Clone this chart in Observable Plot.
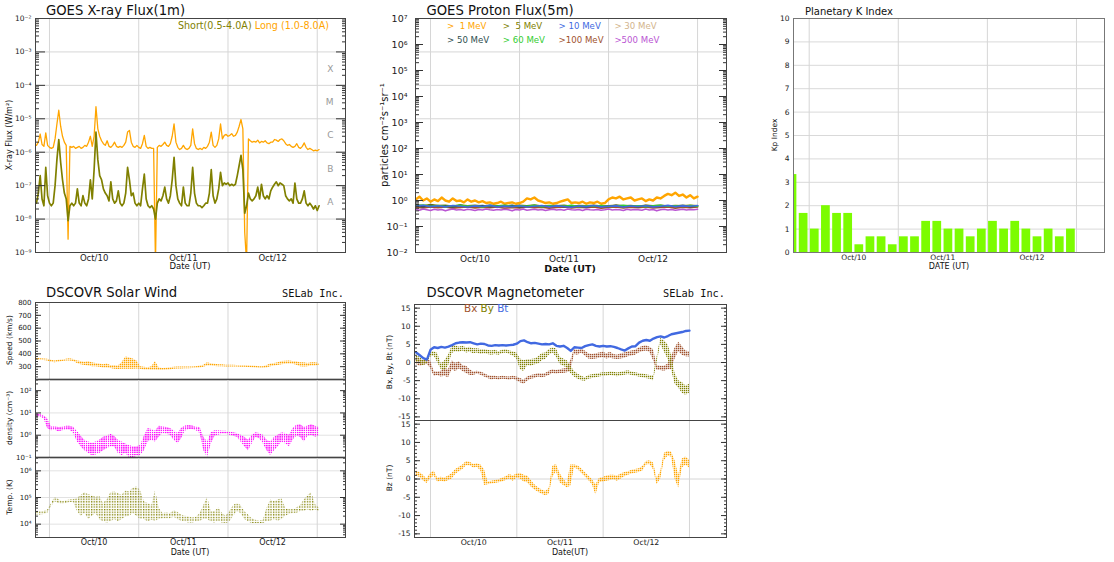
<!DOCTYPE html>
<html>
<head>
<meta charset="utf-8">
<script src="https://cdn.jsdelivr.net/npm/d3@7"></script>
<script src="https://cdn.jsdelivr.net/npm/@observablehq/plot@0.6"></script>
<style>
  html, body { margin: 0; padding: 0; background: #fff; }
  #page { position: relative; width: 1114px; height: 562px; overflow: hidden; font-family: "DejaVu Sans", sans-serif; }
  .slot { position: absolute; }
  .slot svg { max-width: none !important; }
</style>
</head>
<body>
<!-- dotted fills used for the scattered plasma / field samples -->
<svg width="0" height="0" style="position:absolute">
  <defs>
    <pattern id="dots-orange" width="2" height="2" patternUnits="userSpaceOnUse"><rect width="1.4" height="1.4" fill="#ffa500"/></pattern>
    <pattern id="dots-magenta" width="2.2" height="2.2" patternUnits="userSpaceOnUse"><rect width="1.4" height="1.4" fill="#ff00ff"/></pattern>
    <pattern id="dots-olive" width="2.6" height="2.6" patternUnits="userSpaceOnUse"><rect width="1.3" height="1.3" fill="#808000"/></pattern>
    <pattern id="dots-olive-dense" width="2" height="2" patternUnits="userSpaceOnUse"><rect width="1.3" height="1.3" fill="#808000"/></pattern>
    <pattern id="dots-sienna" width="2" height="2" patternUnits="userSpaceOnUse"><rect width="1.4" height="1.4" fill="#a0522d"/></pattern>
  </defs>
</svg>
<div id="page"></div>
<script>
// ---------- time base ----------
const T0 = Date.UTC(2023, 9, 10);           // Oct 10, 00:00 UT
const HOUR = 3600e3;
const at = h => new Date(T0 + h * HOUR);

// ---------- day ticks ----------
const dayStartHours = [0, 24, 48, 72];
const dayNoonHours = [12, 36, 60];
const dayLabels = ["Oct/10", "Oct/11", "Oct/12"];

// visible time windows, hours from Oct 10 00:00 UT
const xrayWindow = [-3.76, 79.6];
const protonWindow = [-4.05, 79.8];
const kpWindow = [-4.23, 79.55];
const magWindow = [-4.45, 82.3];

// ---------- GOES X-ray flux, W/m², 30-min samples from Oct 9 20:30 UT ----------
const xrayStart = -3.5, xrayStep = 0.5;
const xrayLong = [
  1.6e-6, 2.0e-6, 3.5e-6, 1.7e-6, 1.5e-6, 3.8e-6, 1.6e-6, 1.4e-6, 1.3e-6, 1.4e-6,
  2.5e-6, 7e-6, 1.8e-5, 6e-6, 3e-6, 2e-6, 1.6e-6, 2.5e-9, 1.5e-6, 1.4e-6,
  1.5e-6, 1.3e-6, 1.4e-6, 1.5e-6, 1.3e-6, 1.4e-6, 1.6e-6, 1.5e-6, 2e-6, 3e-6,
  1.5e-6, 3e-6, 2.3e-5, 5e-6, 3e-6, 2.2e-6, 1.8e-6, 1.6e-6, 2.2e-6, 1.5e-6,
  1.4e-6, 1.6e-6, 2e-6, 1.5e-6, 1.4e-6, 1.5e-6, 1.4e-6, 1.6e-6, 2e-6, 4e-6,
  4.5e-6, 2e-6, 1.5e-6, 1.4e-6, 1.6e-6, 1.4e-6, 1.3e-6, 1.8e-6, 3.2e-6, 1.5e-6,
  1.3e-6, 1.4e-6, 1.3e-6, 1.3e-6, 5e-10, 1.4e-6, 1.6e-6, 1.5e-6, 1.7e-6, 2e-6,
  1.6e-6, 1.5e-6, 1.8e-6, 3e-6, 7e-6, 2e-6, 1.4e-6, 1.2e-6, 1.3e-6, 1.6e-6,
  1.3e-6, 1.2e-6, 1.3e-6, 1.6e-6, 5e-6, 1.8e-6, 1.3e-6, 1.2e-6, 1.3e-6, 1.2e-6,
  1.4e-6, 1.3e-6, 1.5e-6, 2e-6, 4e-6, 1.6e-6, 1.4e-6, 1.6e-6, 2.5e-6, 7e-6,
  2.5e-6, 3.2e-6, 3.4e-6, 3e-6, 3.2e-6, 3.6e-6, 3e-6, 3.2e-6, 4e-6, 6e-6,
  9.5e-6, 5e-6, 4e-9, 5e-10, 2.5e-6, 2.2e-6, 2e-6, 2.1e-6, 2e-6, 2.3e-6,
  1.9e-6, 2.1e-6, 2e-6, 2.2e-6, 1.9e-6, 1.8e-6, 2e-6, 2e-6, 2.4e-6, 2.3e-6,
  2.1e-6, 2.4e-6, 2.5e-6, 2.2e-6, 1.8e-6, 1.6e-6, 1.7e-6, 1.5e-6, 1.4e-6, 1.5e-6,
  1.8e-6, 1.4e-6, 1.3e-6, 1.5e-6, 1.9e-6, 1.4e-6, 1.2e-6, 1.3e-6, 1.2e-6, 1.1e-6,
  1.15e-6, 1.1e-6, 1.2e-6
];
const xrayShort = [
  3e-8, 6e-8, 2e-7, 4e-8, 2.5e-8, 3.5e-7, 5e-8, 3e-8, 2.5e-8, 3e-8,
  1e-7, 6e-7, 2.4e-6, 5e-7, 1.5e-7, 6e-8, 4e-8, 9e-9, 2.5e-8, 3e-8,
  2.5e-8, 3e-8, 8e-8, 3e-8, 2.5e-8, 5e-8, 3e-8, 2.5e-8, 4e-8, 1.5e-7,
  4e-8, 3e-7, 4e-6, 6e-7, 2e-7, 1.5e-7, 8e-8, 6e-8, 5e-8, 3.5e-8,
  1.3e-7, 4e-8, 3e-8, 3.5e-8, 7e-8, 3e-8, 2.5e-8, 3e-8, 6e-8, 3.5e-7,
  1.5e-7, 5e-8, 6e-8, 3e-8, 2.5e-8, 3e-8, 2.5e-8, 8e-8, 2.2e-7, 4e-8,
  2.5e-8, 2.2e-8, 2.5e-8, 2e-8, 1e-8, 3e-8, 4e-8, 3.5e-8, 5e-8, 9e-8,
  4e-8, 3e-8, 5e-8, 1.5e-7, 7e-7, 1e-7, 4e-8, 3e-8, 2.5e-8, 9e-8,
  3e-8, 2.5e-8, 2.5e-8, 6e-8, 3.5e-7, 6e-8, 3e-8, 2.5e-8, 2.5e-8, 2.2e-8,
  2.5e-8, 3e-8, 3e-8, 6e-8, 3e-7, 5e-8, 3e-8, 4e-8, 8e-8, 2.5e-7,
  1e-7, 1.2e-7, 1.1e-7, 1.2e-7, 1e-7, 1.1e-7, 1e-7, 1.1e-7, 2e-7, 4e-7,
  8e-7, 3e-7, 1.5e-8, 2.5e-8, 6e-8, 4e-8, 3.5e-8, 4e-8, 5e-8, 9e-8,
  4e-8, 1.1e-7, 5e-8, 4e-8, 5e-8, 4e-8, 7e-8, 9e-8, 1.1e-7, 1.3e-7,
  1e-7, 1.2e-7, 1.1e-7, 1e-7, 5e-8, 4e-8, 3.5e-8, 4e-8, 3e-8, 1.2e-7,
  4e-8, 3e-8, 3e-8, 4e-8, 7e-8, 3e-8, 2.5e-8, 3e-8, 2.5e-8, 2e-8,
  2.5e-8, 1.8e-8, 2.5e-8
];
const flareClasses = ["A", "B", "C", "M", "X"];
const flareFloors = [1e-8, 1e-7, 1e-6, 1e-5, 1e-4];

// ---------- GOES integral proton flux, particles cm⁻² s⁻¹ sr⁻¹, from Oct 9 20:00 UT ----------
const protonStart = -4;
const p1MeV = [
  1.1, 1.4, 1.0, 1.2, 0.9, 1.1, 0.95, 1.3, 1.0, 0.9,
  1.2, 0.95, 1.0, 0.85, 1.1, 0.9, 1.0, 0.85, 0.95, 0.8,
  0.85, 0.75, 0.8, 0.9, 0.75, 0.8, 0.85, 0.75, 0.8, 0.9,
  1.2, 1.1, 1.3, 1.0, 0.9, 0.8, 0.85, 0.75, 0.8, 0.9,
  1.0, 1.1, 0.8, 0.85, 0.8, 0.9, 0.75, 0.85, 0.8, 0.9,
  0.75, 0.8, 1.1, 1.3, 1.2, 1.4, 1.1, 1.2, 1.3, 1.0,
  1.1, 1.2, 0.95, 1.1, 1.0, 1.3, 1.2, 1.5, 1.8, 1.6,
  2.0, 1.5, 1.7, 1.3, 1.6, 1.2, 1.4
];
const p500MeV = [
  0.45, 0.42, 0.47, 0.44, 0.41, 0.46, 0.43, 0.45, 0.40, 0.44,
  0.47, 0.43, 0.45, 0.42, 0.46, 0.44, 0.41, 0.45, 0.43, 0.47,
  0.44, 0.42, 0.45, 0.43, 0.46, 0.44, 0.40, 0.45, 0.43, 0.47,
  0.42, 0.44, 0.46, 0.43, 0.45, 0.41, 0.44, 0.46, 0.43, 0.45,
  0.42, 0.47, 0.44, 0.43, 0.45, 0.41, 0.46, 0.44, 0.43, 0.45,
  0.42, 0.44, 0.47, 0.43, 0.45, 0.44, 0.41, 0.46, 0.43, 0.45,
  0.44, 0.42, 0.47, 0.43, 0.45, 0.40, 0.44, 0.46, 0.43, 0.45,
  0.42, 0.44, 0.46, 0.43, 0.45, 0.44, 0.46
];
// two-hourly channels
const p5MeV = [0.68,0.62,0.7,0.64,0.66,0.6,0.67,0.63,0.65,0.61,0.66,0.62,0.64,0.6,0.65,0.63,0.67,0.61,0.64,0.62,0.66,0.6,0.64,0.62,0.65,0.61,0.63,0.66,0.62,0.64,0.6,0.65,0.63,0.66,0.61,0.64,0.62,0.65,0.63];
const p10MeV = [0.6,0.66,0.58,0.63,0.57,0.64,0.6,0.56,0.62,0.59,0.65,0.57,0.61,0.58,0.63,0.56,0.6,0.64,0.57,0.62,0.59,0.55,0.61,0.58,0.64,0.57,0.6,0.62,0.56,0.61,0.59,0.63,0.57,0.6,0.65,0.58,0.62,0.6,0.64];
const p30MeV = [0.58,0.55,0.6,0.56,0.59,0.54,0.57,0.6,0.55,0.58,0.56,0.59,0.54,0.57,0.55,0.6,0.56,0.58,0.55,0.57,0.59,0.54,0.58,0.56,0.6,0.55,0.57,0.59,0.54,0.58,0.56,0.6,0.55,0.57,0.58,0.54,0.59,0.56,0.58];
const p50MeV = [0.63,0.58,0.66,0.6,0.62,0.57,0.65,0.59,0.61,0.64,0.58,0.62,0.6,0.66,0.57,0.61,0.63,0.59,0.6,0.64,0.58,0.62,0.6,0.57,0.63,0.61,0.59,0.65,0.6,0.62,0.58,0.64,0.61,0.59,0.63,0.6,0.66,0.58,0.62];
const p60MeV = [0.62,0.67,0.6,0.64,0.58,0.63,0.66,0.6,0.62,0.57,0.64,0.61,0.65,0.59,0.62,0.6,0.66,0.58,0.63,0.61,0.6,0.65,0.58,0.62,0.6,0.64,0.59,0.61,0.66,0.6,0.63,0.58,0.62,0.65,0.6,0.63,0.59,0.64,0.61];
const p100MeV = [0.55,0.52,0.57,0.53,0.56,0.51,0.54,0.57,0.52,0.55,0.53,0.56,0.5,0.54,0.52,0.57,0.53,0.55,0.51,0.54,0.56,0.52,0.55,0.53,0.57,0.51,0.54,0.56,0.52,0.55,0.53,0.57,0.52,0.54,0.56,0.51,0.55,0.53,0.56];
const protonLabels = [">  1 MeV", ">  5 MeV", "> 10 MeV", "> 30 MeV", "> 50 MeV", "> 60 MeV", ">100 MeV", ">500 MeV"];
const protonColors = ["#ffa500", "#808000", "#4169e1", "#d2b48c", "#2f4f4f", "#32cd32", "#a0522d", "#ba55d3"];

// ---------- planetary K index, 3-hour bins from Oct 9 18:00 UT ----------
const kpStart = -6, kpStep = 3;
const kpValues = [3.33, 1.67, 1, 2, 1.67, 1.67, 0.33, 0.67, 0.67, 0.33, 0.67, 0.67, 1.33, 1.33, 1, 1, 0.67, 1, 1.33, 1, 1.33, 1, 0.67, 1, 0.67, 1];

// ---------- DSCOVR plasma, hourly low/high envelopes from Oct 9 20:30 UT ----------
const plasmaStart = -3.5;
const speedLo = [
  350, 350, 348, 345, 335, 330, 335, 340, 345, 345,
  340, 325, 315, 310, 305, 300, 300, 295, 290, 290,
  285, 280, 278, 280, 280, 280, 280, 282, 280, 275,
  275, 272, 272, 270, 270, 272, 275, 280, 282, 282,
  283, 283, 285, 288, 290, 295, 305, 305, 302, 300,
  300, 298, 298, 298, 298, 296, 296, 294, 292, 290,
  285, 285, 290, 300, 305, 310, 315, 318, 320, 318,
  312, 300, 298, 300, 305, 305, 310
];
const speedHi = [
  365, 362, 360, 358, 350, 345, 350, 352, 358, 362,
  355, 345, 340, 335, 340, 330, 325, 320, 315, 320,
  310, 310, 305, 330, 375, 370, 360, 345, 300, 295,
  292, 300, 340, 290, 285, 288, 292, 295, 297, 298,
  297, 298, 298, 300, 305, 312, 330, 322, 318, 315,
  314, 312, 312, 312, 310, 310, 310, 308, 306, 304,
  300, 300, 310, 320, 325, 330, 340, 342, 345, 340,
  338, 330, 330, 325, 330, 330, 325
];
const densityLo = [
  7, 6.5, 5.5, 2, 1.6, 1.7, 1.4, 1.6, 1.7, 1.7,
  1.2, 0.5, 0.3, 0.2, 0.15, 0.12, 0.13, 0.15, 0.2, 0.25,
  0.3, 0.3, 0.15, 0.12, 0.15, 0.1, 0.1, 0.11, 0.12, 0.2,
  0.5, 0.6, 0.5, 0.8, 1.2, 1.1, 1.0, 0.6, 0.4, 0.7,
  1.5, 1.8, 1.8, 1.6, 1.2, 0.2, 0.1, 0.4, 0.9, 1.0,
  1.1, 1.1, 1.0, 0.9, 0.8, 0.5, 0.3, 0.2, 0.4, 0.8,
  0.7, 0.4, 0.2, 0.12, 0.2, 0.3, 0.5, 0.4, 0.3, 0.6,
  0.9, 0.8, 0.5, 0.9, 1.0, 0.8, 0.9
];
const densityHi = [
  9.5, 8.5, 7.5, 5.5, 2.4, 2.4, 2.2, 2.3, 2.5, 2.5,
  2.3, 1.5, 0.9, 0.6, 0.5, 0.45, 0.5, 0.6, 0.8, 0.9,
  1.1, 0.9, 0.6, 0.5, 0.4, 0.35, 0.3, 0.3, 0.35, 0.9,
  2.0, 1.8, 1.5, 2.5, 2.4, 2.2, 2.0, 1.6, 1.2, 2.0,
  2.6, 2.7, 2.6, 2.3, 2.2, 0.8, 0.5, 1.3, 1.6, 1.6,
  1.5, 1.5, 1.4, 1.3, 1.2, 1.0, 0.8, 0.6, 1.0, 1.3,
  1.2, 1.0, 0.6, 0.5, 0.8, 1.0, 1.3, 1.2, 1.0, 2.0,
  2.8, 3.0, 2.2, 2.6, 3.0, 2.5, 2.2
];
const tempLo = [
  2.2e4, 2.2e4, 2.3e4, 2.5e4, 4.5e4, 7e4, 6e4, 5.5e4, 6e4, 6.5e4,
  6.5e4, 3e4, 2e4, 2.5e4, 1.5e4, 2e4, 2.5e4, 1.5e4, 1.2e4, 1.1e4,
  1.2e4, 1.5e4, 1.2e4, 1.5e4, 1.8e4, 2e4, 2.5e4, 2e4, 1.5e4, 1.5e4,
  1.2e4, 1.4e4, 1.3e4, 1.5e4, 1.6e4, 1.6e4, 1.6e4, 1.8e4, 1.5e4, 1.3e4,
  1.2e4, 1.1e4, 1.1e4, 1.2e4, 1.3e4, 1.5e4, 1.5e4, 1.2e4, 1.1e4, 1.3e4,
  1.1e4, 1.05e4, 1.2e4, 2e4, 3e4, 2.5e4, 1.5e4, 1.2e4, 1.05e4, 1.05e4,
  1.05e4, 1.05e4, 1.2e4, 1.3e4, 1.5e4, 1.3e4, 1.5e4, 2e4, 2.3e4, 2.5e4,
  2.5e4, 3e4, 3e4, 3.5e4, 3e4, 3.5e4, 3e4
];
const tempHi = [
  2.9e4, 2.9e4, 3.0e4, 3.3e4, 6e4, 1.0e5, 8.5e4, 7e4, 7.5e4, 8e4,
  8.5e4, 9e4, 1.2e5, 1.5e5, 1.3e5, 1.2e5, 1.0e5, 1.1e5, 6e4, 8e4,
  1.5e5, 1.6e5, 1.4e5, 1.2e5, 1.8e5, 1.6e5, 2.2e5, 2.5e5, 1.8e5, 7e4,
  6e4, 5e4, 1.8e5, 4e4, 2.5e4, 2.6e4, 2.5e4, 3.2e4, 2.8e4, 2.2e4,
  2.0e4, 1.9e4, 1.7e4, 1.8e4, 2.5e4, 5e4, 1.0e5, 3e4, 3e4, 4e4,
  2.5e4, 2e4, 3e4, 5e4, 6e4, 5e4, 3e4, 2.2e4, 1.6e4, 1.4e4,
  1.3e4, 1.4e4, 4e4, 8e4, 7e4, 8e4, 9e4, 4e4, 3.5e4, 3.5e4,
  4e4, 5e4, 8e4, 1.2e5, 1.5e5, 5.5e4, 4e4
];

// ---------- DSCOVR magnetometer, nT, hourly from Oct 9 20:00 UT ----------
const magStart = -4;
const bt = [
  2.8, 2.0, 1.2, 0.8, 3.5, 4.2, 4.0, 4.3, 4.1, 4.4,
  4.8, 5.3, 5.5, 5.6, 5.5, 5.6, 5.3, 5.0, 5.2, 5.1,
  4.7, 4.6, 4.8, 4.7, 4.8, 4.7, 4.8, 4.9, 5.2, 5.9,
  6.1, 5.6, 5.3, 5.4, 5.2, 5.0, 5.1, 5.0, 5.3, 4.6,
  4.4, 4.6, 4.0, 3.2, 4.2, 4.1, 4.0, 4.5, 4.8, 5.0,
  4.6, 4.4, 4.6, 4.4, 4.5, 4.3, 4.0, 3.6, 3.3, 3.9,
  4.4, 4.5, 5.5, 6.0, 6.2, 6.0, 6.6, 7.0, 7.2, 6.9,
  7.3, 7.8, 8.0, 8.2, 8.4, 8.7, 8.8
];
const bxLo = [
  -0.5, -1, -0.8, -0.5, -1.5, -3.8, -3.6, -4.0, -3.8, -4.2,
  -2.0, -2.5, -1.8, -2.5, -3.0, -3.6, -3.6, -3.2, -3.5, -4.0,
  -4.4, -4.8, -4.6, -4.8, -4.6, -4.7, -4.9, -4.6, -5.0, -5.6,
  -6.0, -5.2, -4.6, -4.4, -4.0, -4.2, -4.0, -3.6, -3.0, -3.2,
  -3.0, -3.0, -2.8, -2.5, 2.2, 2.0, 2.6, 1.8, 1.0, 0.8,
  1.0, 1.2, 1.4, 1.0, 1.2, 1.0, 0.8, 1.0, 1.2, 1.6,
  1.8, 2.0, 2.6, 3.0, 3.2, 2.8, 0.5, -2.2, -2.2, -2.4,
  -2.0, -2.0, 1.0, 3.0, 2.0, 1.6, 1.5
];
const bxHi = [
  1.5, 0.8, 0.5, 0.6, 0.5, -2.5, -2.6, -2.4, -1.5, -2.0,
  0.5, -0.3, 0.2, -0.8, -1.0, -2.0, -2.6, -2.4, -2.6, -3.0,
  -3.6, -3.8, -3.8, -4.0, -3.8, -3.9, -4.0, -3.8, -4.0, -4.4,
  -4.8, -4.0, -3.6, -3.4, -3.0, -3.2, -3.0, -2.4, -2.0, -2.2,
  -2.0, -1.8, -1.6, 0.5, 3.6, 3.4, 3.8, 3.2, 2.4, 2.2,
  2.4, 2.6, 2.8, 2.4, 2.8, 2.2, 2.0, 2.4, 2.6, 3.0,
  3.2, 3.4, 4.0, 4.4, 4.6, 4.2, 3.5, -0.8, -1.0, -1.0,
  -0.5, 1.5, 4.0, 5.6, 4.4, 3.2, 3.0
];
const byLo = [
  0.0, -0.5, -0.8, -0.5, 1.5, 1.8, 0.0, -2.0, -2.2, -1.0,
  2.5, 3.0, 2.8, 3.2, 2.6, 2.8, 2.4, 2.6, 2.2, 2.4,
  2.2, 2.0, 2.2, 2.0, 2.4, 2.6, 2.2, 1.8, 1.0, -2.0,
  -2.5, -0.8, -1.0, -0.6, -0.5, 0.5, 0.8, 2.0, 2.6, 1.5,
  -0.5, -1.0, -1.5, -3.0, -4.0, -4.6, -5.0, -5.2, -4.6, -4.4,
  -4.2, -4.0, -3.8, -3.8, -3.6, -3.7, -3.9, -3.7, -3.5, -3.3,
  -3.6, -3.8, -4.0, -4.2, -4.4, -4.6, -5.0, 0.0, 5.0, 3.0,
  1.0, -2.0, -6.0, -7.0, -8.5, -9.0, -8.5
];
const byHi = [
  1.8, 1.5, 0.6, 0.5, 3.0, 3.0, 2.5, -0.5, 0.5, 2.0,
  4.4, 4.6, 4.2, 4.5, 4.0, 4.2, 3.8, 3.8, 3.6, 3.6,
  3.4, 3.2, 3.4, 3.0, 3.4, 3.6, 3.2, 3.0, 2.6, 1.0,
  0.5, 0.8, 0.8, 1.0, 1.5, 2.5, 2.6, 3.6, 4.0, 3.8,
  1.5, 1.0, 0.5, -1.0, -2.4, -3.2, -3.8, -4.2, -3.6, -3.4,
  -3.2, -3.0, -2.8, -2.8, -2.6, -2.7, -2.9, -2.7, -2.5, -2.3,
  -2.6, -2.8, -3.0, -3.2, -3.4, -3.6, -3.6, 1.5, 6.6, 6.0,
  5.0, 2.0, -3.0, -5.0, -5.5, -6.5, -6.0
];
const bzLo = [
  0.8, 0.5, -0.5, -1.2, 0.0, 0.8, -0.8, -0.6, -0.8, -0.5,
  0.0, 1.2, 2.0, 2.6, 3.6, 3.6, 3.0, 3.2, 2.2, -1.8,
  -1.6, -1.4, -1.2, -1.0, -0.8, -0.4, 0.0, -0.6, 0.2, 0.0,
  -0.8, -1.0, -2.2, -3.0, -3.6, -4.2, -4.6, -4.2, 0.5, 2.0,
  -1.0, -1.8, -2.4, -2.0, 3.0, 2.6, 1.6, 0.6, -0.4, -1.6,
  -4.4, -1.0, -0.8, -0.6, -0.4, -0.2, -0.6, 0.0, 0.6, 1.0,
  1.4, 1.6, 1.8, 2.2, 3.8, 4.0, 2.5, -1.6, 0.0, 5.0,
  6.2, 6.0, 0.0, -2.5, 3.0, 3.8, 3.0
];
const bzHi = [
  2.2, 1.8, 1.0, 0.0, 1.5, 2.2, 0.2, 0.5, 0.3, 0.8,
  1.5, 2.6, 3.2, 3.8, 4.8, 4.6, 4.0, 4.2, 3.8, 2.5,
  -0.8, -0.6, -0.4, -0.2, 0.2, 0.6, 1.2, 0.8, 1.4, 1.6,
  1.0, 0.8, -0.4, -1.6, -2.4, -3.0, -3.4, -2.6, 3.5, 4.0,
  1.5, 0.0, -1.2, 3.8, 3.8, 3.6, 2.8, 1.8, 0.8, -0.2,
  -1.6, 0.2, 0.4, 0.8, 1.0, 1.0, 0.8, 1.4, 1.8, 2.0,
  2.4, 2.6, 2.8, 3.4, 4.8, 5.0, 4.4, 0.2, 2.0, 7.0,
  7.6, 7.4, 5.0, 1.0, 5.5, 6.0, 5.2
];

// ---------- helpers ----------
const FONT = "DejaVu Sans";
const series = (start, step, values) => values.map((v, i) => ({t: at(start + i * step), v}));
const band = (start, step, lo, hi) => lo.map((v, i) => ({t: at(start + i * step), lo: v, hi: hi[i]}));
const SUP = {"-": "⁻", "0": "⁰", "1": "¹", "2": "²", "3": "³", "4": "⁴", "5": "⁵", "6": "⁶", "7": "⁷", "8": "⁸", "9": "⁹"};
const pow10 = d => "10" + String(Math.round(Math.log10(d))).replace(/./g, c => SUP[c]);
const decades = (e0, e1) => d3.range(e0, e1 + 1).map(e => +`1e${e}`);
const logMinor = (lo, hi) => d3.range(Math.floor(Math.log10(lo)), Math.ceil(Math.log10(hi)))
  .flatMap(e => d3.range(2, 10).map(m => +`${m}e${e}`)).filter(v => v >= lo && v <= hi);

const page = document.getElementById("page");
function place(svg, left, top, width, height) {
  const slot = document.createElement("div");
  slot.className = "slot";
  slot.style.cssText = `left:${left}px;top:${top}px;width:${width}px;height:${height}px;`;
  slot.appendChild(svg);
  page.appendChild(slot);
}
// panels without date labels hide the implicit x axis
function panel({left, top, width, height, margin, window, y, marks, dates = true}) {
  const svg = Plot.plot({
    width, height,
    marginTop: margin[0], marginRight: margin[1], marginBottom: margin[2], marginLeft: margin[3],
    style: {background: "transparent", overflow: "visible", fontFamily: FONT, color: "#222"},
    x: {type: "utc", domain: window.map(at), label: null, ...(dates ? {} : {axis: null})},
    y: {...y, label: null},
    marks
  });
  place(svg, left, top, width, height);
}
const dayGrid = () => Plot.gridX(dayStartHours.map(at), {stroke: "#d6d6d6", strokeOpacity: 1});
const dayAxis = (fontSize, tickPadding) => Plot.axisX(dayNoonHours.map(at), {
  tickSize: 0, tickPadding, fontSize, label: null,
  tickFormat: d => dayLabels[dayNoonHours.indexOf((d - T0) / HOUR)]
});
const innerTicks = (values, size) => ["left", "right"].map(anchor =>
  Plot.axisY(values, {anchor, tickSize: -size, fill: "none", stroke: "#333", label: null}));
const yLabels = (values, format, fontSize, tickPadding) =>
  Plot.axisY(values, {tickSize: 0, tickPadding, fontSize, tickFormat: format, label: null});
const frame = (stroke = "#444") => Plot.frame({stroke});

// ---------- GOES X-ray ----------
const xrayDomain = [1e-9, 1e-2];
panel({
  left: 0, top: 0, width: 370, height: 280, margin: [18, 25, 28, 35], window: xrayWindow,
  y: {type: "log", domain: xrayDomain},
  marks: [
    Plot.gridY(decades(-8, -3), {stroke: "#d6d6d6", strokeOpacity: 1}),
    dayGrid(),
    Plot.line(series(xrayStart, xrayStep, xrayLong), {x: "t", y: "v", stroke: "#ffa500", strokeWidth: 1.3, clip: true}),
    Plot.line(series(xrayStart, xrayStep, xrayShort), {x: "t", y: "v", stroke: "#808000", strokeWidth: 1.7, clip: true}),
    Plot.text(flareClasses, {y: (d, i) => flareFloors[i] * Math.sqrt(10), text: d => d, frameAnchor: "right", dx: -12, fill: "#999", fontSize: 9}),
    ...innerTicks(logMinor(...xrayDomain), 4),
    ...innerTicks(decades(-9, -2), 10),
    yLabels(decades(-9, -2), pow10, 7.5, 4),
    dayAxis(8.5, 2),
    frame()
  ]
});

// ---------- GOES protons ----------
const protonDomain = [1e-2, 1e7];
// horizontal guide lines share the seven-step layout of the neighbouring X-ray panel
const protonGuides = d3.range(1, 7).map(k => 10 ** (7 - 9 * k / 7));
const protonData = [p1MeV, p5MeV, p10MeV, p30MeV, p50MeV, p60MeV, p100MeV, p500MeV]
  .map(values => series(protonStart, values.length > 50 ? 1 : 2, values));
const protonDrawOrder = [0, 1, 3, 6, 4, 5, 2, 7];
panel({
  left: 370, top: 0, width: 370, height: 280, margin: [18, 14, 28, 45], window: protonWindow,
  y: {type: "log", domain: protonDomain},
  marks: [
    Plot.gridY(protonGuides, {stroke: "#d6d6d6", strokeOpacity: 1}),
    dayGrid(),
    ...protonDrawOrder.map(k => Plot.line(protonData[k], {x: "t", y: "v", stroke: protonColors[k], strokeWidth: k === 0 ? 2.4 : 1.6, clip: true})),
    ...innerTicks(logMinor(...protonDomain), 4),
    ...innerTicks(decades(-2, 7), 8),
    yLabels(decades(-2, 7), pow10, 9.5, 8),
    dayAxis(9, 3),
    frame()
  ]
});

// ---------- Kp ----------
const kpData = kpValues.map((kp, i) => ({start: at(kpStart + i * kpStep), end: at(kpStart + (i + 1) * kpStep), kp}));
panel({
  left: 760, top: 0, width: 354, height: 280, margin: [18, 10, 28, 33], window: kpWindow,
  y: {domain: [0, 10]},
  marks: [
    Plot.gridY(d3.range(1, 10), {stroke: "#d9d9d9", strokeOpacity: 1}),
    dayGrid(),
    Plot.rectY(kpData, {x1: "start", x2: "end", y: "kp", fill: "#7cfc00", insetLeft: 1.2, insetRight: 1.2, clip: true}),
    yLabels(d3.range(0, 11), d => String(d), 7.5, 4),
    dayAxis(7.5, 2),
    frame("#777")
  ]
});

// ---------- DSCOVR solar wind ----------
const speedDomain = [200, 800];
panel({
  left: 0, top: 302, width: 370, height: 77, margin: [0, 25, 0, 35], window: xrayWindow, dates: false,
  y: {domain: speedDomain},
  marks: [
    dayGrid(),
    Plot.areaY(band(plasmaStart, 1, speedLo, speedHi), {x: "t", y1: "lo", y2: "hi", fill: "url(#dots-orange)", clip: true}),
    ...innerTicks(d3.range(200, 801, 20), 3),
    ...innerTicks(d3.range(200, 801, 100), 6),
    yLabels(d3.range(300, 801, 100), d => String(d), 7, 4),
    frame(),
    Plot.ruleY([speedDomain[0]], {stroke: "#111", strokeWidth: 1.5})
  ]
});
const densityDomain = [0.1, 10 ** 2.5];
panel({
  left: 0, top: 379, width: 370, height: 78, margin: [0, 25, 0, 35], window: xrayWindow, dates: false,
  y: {type: "log", domain: densityDomain},
  marks: [
    Plot.gridY([1, 10], {stroke: "#e2e2e2", strokeOpacity: 1}),
    dayGrid(),
    Plot.areaY(band(plasmaStart, 1, densityLo, densityHi), {x: "t", y1: "lo", y2: "hi", fill: "url(#dots-magenta)", clip: true}),
    ...innerTicks(logMinor(...densityDomain), 3),
    ...innerTicks(decades(-1, 2), 6),
    yLabels(decades(-1, 2), pow10, 7, 4),
    frame(),
    Plot.ruleY([densityDomain[0]], {stroke: "#111", strokeWidth: 1.5})
  ]
});
const tempDomain = [10 ** 3.5, 10 ** 6.5];
panel({
  left: 0, top: 457, width: 370, height: 105, margin: [0, 25, 25, 35], window: xrayWindow,
  y: {type: "log", domain: tempDomain},
  marks: [
    Plot.gridY(decades(4, 6), {stroke: "#e2e2e2", strokeOpacity: 1}),
    dayGrid(),
    Plot.areaY(band(plasmaStart, 1, tempLo, tempHi), {x: "t", y1: "lo", y2: "hi", fill: "url(#dots-olive)", clip: true}),
    ...innerTicks(logMinor(...tempDomain), 3),
    ...innerTicks(decades(4, 6), 6),
    yLabels(decades(4, 6), pow10, 7, 4),
    dayAxis(8, 2),
    frame()
  ]
});

// ---------- DSCOVR magnetometer ----------
const fieldDomain = [-16, 16];
panel({
  left: 370, top: 304, width: 370, height: 116, margin: [0, 14, 0, 44], window: magWindow, dates: false,
  y: {domain: fieldDomain},
  marks: [
    Plot.gridY([0], {stroke: "#d6d6d6", strokeOpacity: 1}),
    dayGrid(),
    Plot.areaY(band(magStart, 1, bxLo, bxHi), {x: "t", y1: "lo", y2: "hi", fill: "url(#dots-sienna)", clip: true}),
    Plot.areaY(band(magStart, 1, byLo, byHi), {x: "t", y1: "lo", y2: "hi", fill: "url(#dots-olive-dense)", clip: true}),
    Plot.line(series(magStart, 1, bt), {x: "t", y: "v", stroke: "#4169e1", strokeWidth: 2.4, clip: true}),
    ...innerTicks(d3.range(-16, 17, 1), 3),
    ...innerTicks(d3.range(-15, 16, 5), 6),
    yLabels(d3.range(-15, 16, 5), d => String(d), 7.5, 4),
    frame()
  ]
});
panel({
  left: 370, top: 420, width: 370, height: 142, margin: [0, 14, 25, 44], window: magWindow,
  y: {domain: fieldDomain},
  marks: [
    Plot.gridY([0], {stroke: "#d6d6d6", strokeOpacity: 1}),
    dayGrid(),
    Plot.areaY(band(magStart, 1, bzLo, bzHi), {x: "t", y1: "lo", y2: "hi", fill: "url(#dots-orange)", clip: true}),
    ...innerTicks(d3.range(-16, 17, 1), 3),
    ...innerTicks(d3.range(-15, 16, 5), 6),
    yLabels(d3.range(-15, 16, 5), d => String(d), 7.5, 4),
    dayAxis(7.8, 2),
    frame()
  ]
});

// ---------- titles, legends and axis titles ----------
const overlay = d3.select(page).append("svg")
  .attr("width", 1114).attr("height", 562)
  .style("position", "absolute").style("left", 0).style("top", 0)
  .style("pointer-events", "none").style("font-family", FONT);
function label(str, x, y, {size = 8, color = "#111", anchor = "start", rotate = false, weight = null, family = null} = {}) {
  const t = overlay.append("text")
    .attr("x", x).attr("y", y)
    .attr("font-size", size).attr("fill", color)
    .attr("text-anchor", anchor)
    .style("white-space", "pre")
    .text(str);
  if (rotate) t.attr("transform", `rotate(-90 ${x} ${y})`);
  if (weight) t.attr("font-weight", weight);
  if (family) t.attr("font-family", family);
  return t;
}
const MONO = "DejaVu Sans Mono";
label("GOES X-ray Flux(1m)", 46, 15, {size: 13.2});
label("GOES Proton Flux(5m)", 426.5, 15, {size: 13.2});
label("Planetary K Index", 805, 15, {size: 10});
label("DSCOVR Solar Wind", 46, 297, {size: 13.2});
label("SELab Inc.", 344, 297, {size: 10.3, anchor: "end", family: MONO});
label("DSCOVR Magnetometer", 426.5, 297, {size: 13.2});
label("SELab Inc.", 725, 297, {size: 10.3, anchor: "end", family: MONO});

// X-ray legend
const xl = overlay.append("text").attr("x", 329).attr("y", 28.5).attr("font-size", 9.6)
  .attr("text-anchor", "end").style("white-space", "pre");
xl.append("tspan").attr("fill", "#808000").text("Short(0.5-4.0A)");
xl.append("tspan").attr("fill", "#ffa500").text(" Long (1.0-8.0A)");

// proton legend, two rows of four
protonLabels.forEach((s, i) => label(s, 447 + 55.8 * (i % 4), i < 4 ? 28.5 : 42.5, {size: 8.6, color: protonColors[i]}));

// magnetometer legend
const ml = overlay.append("text").attr("x", 464).attr("y", 311.5).attr("font-size", 10.4).style("white-space", "pre");
[["Bx", "#a0522d"], ["By", "#808000"], ["Bt", "#4169e1"]].forEach(([s, c], i) =>
  ml.append("tspan").attr("fill", c).text((i ? " " : "") + s));

// axis titles
label("X-ray Flux (W/m²)", 12, 135, {size: 8, anchor: "middle", rotate: true});
label("Date (UT)", 190, 269, {size: 8.5, anchor: "middle"});
label("particles cm⁻²s⁻¹sr⁻¹", 388, 135, {size: 10, anchor: "middle", rotate: true});
label("Date (UT)", 570, 272, {size: 9.5, anchor: "middle", weight: "bold"});
label("Kp Index", 777, 135, {size: 7.5, anchor: "middle", rotate: true});
label("DATE (UT)", 949, 268.5, {size: 8, anchor: "middle"});
label("Speed (km/s)", 12, 340, {size: 7.5, anchor: "middle", rotate: true});
label("density (cm⁻³)", 12, 418, {size: 7.5, anchor: "middle", rotate: true});
label("Temp. (K)", 12, 497, {size: 7.5, anchor: "middle", rotate: true});
label("Date (UT)", 190, 554.5, {size: 8, anchor: "middle"});
label("Bx, By, Bt (nT)", 392, 362, {size: 7.5, anchor: "middle", rotate: true});
label("Bz (nT)", 392, 478, {size: 7.5, anchor: "middle", rotate: true});
label("Date(UT)", 570, 554.5, {size: 8, anchor: "middle"});
</script>
</body>
</html>
